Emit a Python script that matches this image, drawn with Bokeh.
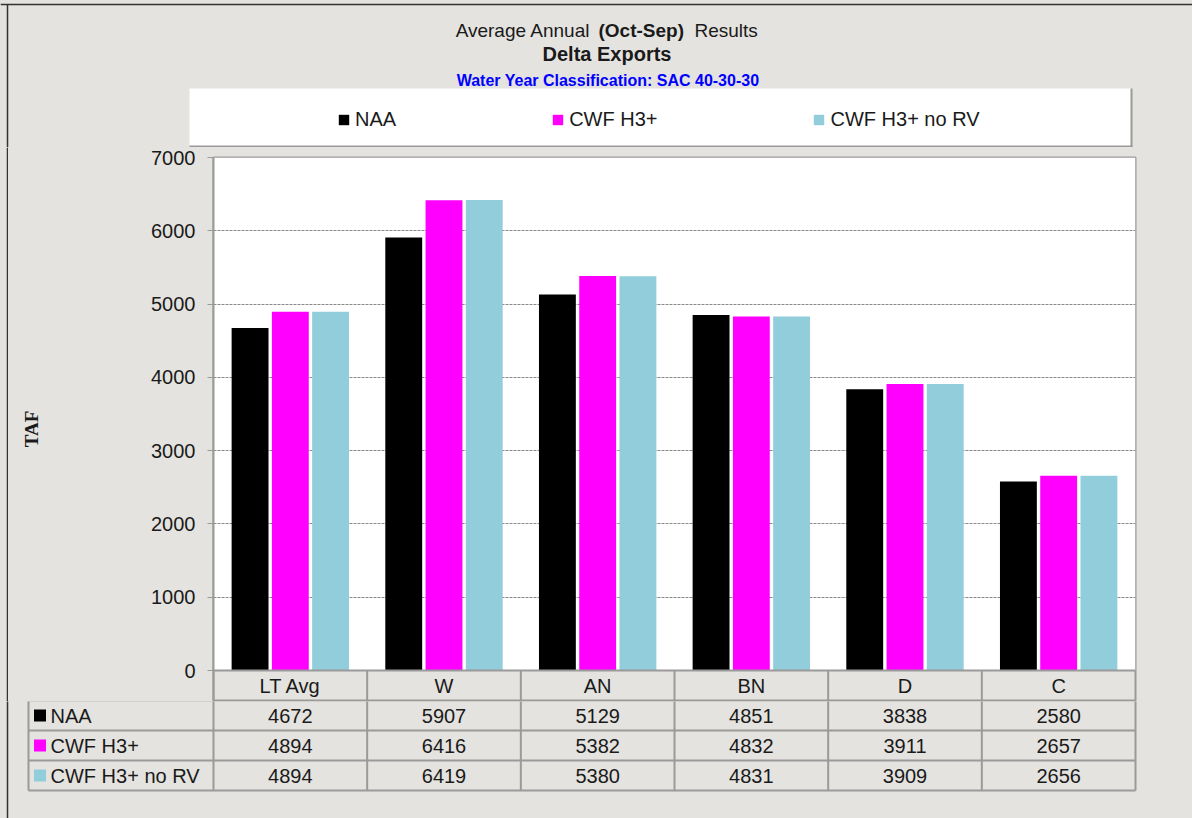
from bokeh.plotting import figure
from bokeh.models import (Range1d, FactorRange, FixedTicker, BoxAnnotation, Legend,
                          LegendItem, Span)
from bokeh.transform import dodge
from bokeh.layouts import column, row
from bokeh.core.properties import value
from bokeh.embed import file_html
from bokeh.resources import INLINE

# ---------------- data ----------------
categories = ["LT Avg", "W", "AN", "BN", "D", "C"]
series_names = ["NAA", "CWF H3+", "CWF H3+ no RV"]
naa = [4672, 5907, 5129, 4851, 3838, 2580]
cwf_h3 = [4894, 6416, 5382, 4832, 3911, 2657]
cwf_h3_no_rv = [4894, 6419, 5380, 4831, 3909, 2656]
series_values = [naa, cwf_h3, cwf_h3_no_rv]
series_colors = ["#000000", "#ff00ff", "#92cddc"]
y_ticks = [0, 1000, 2000, 3000, 4000, 5000, 6000, 7000]
grid_ticks = [1000, 2000, 3000, 4000, 5000, 6000]
title_line1 = ["Average Annual", "(Oct-Sep)", "Results"]
title_line2 = "Delta Exports"
title_line3 = "Water Year Classification: SAC 40-30-30"
y_label = "TAF"

# ---------------- style ----------------
BG = "#e4e3df"
LINE = "#9a9a9a"
EDGE = "#333333"
TXT = "#1a1a1a"
FONT = "Liberation Sans"
F = value(FONT)
W = 1192
H = 818
STRIP = 8
BOX_STYLE = {"background-color": BG}


def bare(fig):
    fig.xgrid.visible = False
    fig.ygrid.visible = False
    return fig


# ---------------- top: titles + legend ----------------
TOP_H = 147
top = bare(figure(width=W, height=TOP_H, x_range=Range1d(0, W), y_range=Range1d(TOP_H, 0),
                  x_axis_location=None, y_axis_location=None, output_backend="svg",
                  toolbar_location=None, min_border=0, background_fill_color=BG,
                  border_fill_color=BG, outline_line_color=None))

# outer frame lines
top.segment(x0=[0, 7], y0=[4, 4], x1=[W, 7], y1=[4, TOP_H], line_color=EDGE, line_width=1.5)

top.text(x=[590], y=[29.5], text=[title_line1[0]], text_align="right", text_baseline="middle",
         text_font_size="19px", text_color=TXT, text_font=F)
top.text(x=[598], y=[29.5], text=[title_line1[1]], text_align="left", text_baseline="middle",
         text_font_size="19px", text_font_style="bold", text_color=TXT, text_font=F)
top.text(x=[694], y=[29.5], text=[title_line1[2]], text_align="left", text_baseline="middle",
         text_font_size="19px", text_color=TXT, text_font=F)
top.text(x=[606.5], y=[53], text=[title_line2], text_align="center", text_baseline="middle",
         text_font_size="20px", text_font_style="bold", text_color=TXT, text_font=F)
top.text(x=[607.5], y=[80], text=[title_line3], text_align="center", text_baseline="middle",
         text_font_size="16px", text_font_style="bold", text_color="#0000ff", text_font=F)

# legend box
top.quad(left=[189], right=[1131], top=[88], bottom=[147], fill_color="white", line_color=None)
top.segment(x0=[1131, 189], y0=[88, 146], x1=[1131, 1132], y1=[147, 146],
            line_color=LINE, line_width=2)

nan = float("nan")
items = []
for name, col in zip(series_names, series_colors):
    r = top.quad(left=[nan], right=[nan], top=[nan], bottom=[nan], fill_color=col, line_color=None)
    items.append(LegendItem(label=name, renderers=[r]))
legend = Legend(items=items, orientation="horizontal", location=(337, 16), spacing=155,
                padding=0, margin=0, glyph_width=13, glyph_height=13, label_standoff=5,
                label_text_font=FONT, label_text_font_size="20px", label_text_color=TXT,
                border_line_color=None, background_fill_alpha=0)
top.add_layout(legend, "center")

# ---------------- main chart ----------------
MAIN_H = 554
strip = bare(figure(width=STRIP, height=MAIN_H, x_range=Range1d(0, STRIP),
                    y_range=Range1d(0, MAIN_H), x_axis_location=None, y_axis_location=None,
                    output_backend="svg", toolbar_location=None, min_border=0,
                    background_fill_color=BG, border_fill_color=BG, outline_line_color=None))
strip.segment(x0=[7], y0=[0], x1=[7], y1=[MAIN_H], line_color=EDGE, line_width=1.5)

y_head = 30.0 / (513.0 / 7000.0)  # header row height in data units
main = figure(width=W - STRIP, height=MAIN_H, x_range=FactorRange(*categories),
              y_range=Range1d(-y_head, 7000), x_axis_location=None,
              output_backend="svg", toolbar_location=None,
              min_border_left=213 - STRIP, min_border_right=57, min_border_top=10,
              min_border_bottom=1, background_fill_color=BG, border_fill_color=BG,
              outline_line_color=LINE, outline_line_width=2)

main.add_layout(BoxAnnotation(bottom=0, top=7000, fill_color="white", fill_alpha=1,
                              line_color=None, level="image"))
main.xgrid.visible = False
main.ygrid.ticker = FixedTicker(ticks=grid_ticks)
main.ygrid.grid_line_color = "#8a8a8a"
main.ygrid.grid_line_dash = "3 1"
main.ygrid.grid_line_width = 1

offsets = [-0.262, 0.0, 0.262]
for vals, col, off in zip(series_values, series_colors, offsets):
    src = dict(cat=categories, v=vals)
    main.vbar(x=dodge("cat", off, range=main.x_range), top="v", bottom=0, width=0.24,
              source=src, fill_color=col, line_color=None)

main.add_layout(Span(location=0, dimension="width", line_color=LINE, line_width=2))
bounds = list(range(1, len(categories)))
main.segment(x0=bounds, y0=[-y_head] * len(bounds), x1=bounds, y1=[0] * len(bounds),
             line_color=LINE, line_width=2)
main.text(x=categories, y=[-y_head / 2] * len(categories), text=categories,
          text_align="center", text_baseline="middle", text_font_size="20px",
          text_color=TXT, text_font=F)

ax = main.yaxis[0]
ax.ticker = FixedTicker(ticks=y_ticks)
ax.axis_line_color = LINE
ax.axis_line_width = 2
ax.major_tick_line_color = LINE
ax.major_tick_line_width = 1
ax.major_tick_out = 6
ax.major_tick_in = 0
ax.minor_tick_line_color = None
ax.major_label_standoff = 12
ax.major_label_text_font = FONT
ax.major_label_text_font_size = "20px"
ax.major_label_text_color = TXT
ax.axis_label = y_label
ax.axis_label_text_font = "Liberation Serif"
ax.axis_label_text_font_style = "bold"
ax.axis_label_text_font_size = "19px"
ax.axis_label_text_color = TXT
ax.axis_label_standoff = 106

# ---------------- data table ----------------
TB_H = H - TOP_H - MAIN_H
CW = (1135 - 213) / len(categories)   # px per category column
L = (213 - 28) / CW                    # width of the name column
nrows = len(series_names)
table = bare(figure(width=W, height=TB_H, x_range=Range1d(-213 / CW, (W - 213) / CW),
                    y_range=Range1d(1.0 / 30 + TB_H / 30.0, 1.0 / 30), x_axis_location=None,
                    y_axis_location=None, output_backend="svg", toolbar_location=None,
                    min_border=0, background_fill_color=BG, border_fill_color=BG,
                    outline_line_color=None))

table.segment(x0=[-206 / CW], y0=[0], x1=[-206 / CW], y1=[TB_H / 30.0 + 1],
              line_color=EDGE, line_width=1.5)

hy = list(range(nrows + 1))
table.segment(x0=[-L] * len(hy), y0=hy, x1=[len(categories)] * len(hy), y1=hy,
              line_color=LINE, line_width=2)
vx = [-L] + list(range(len(categories) + 1))
table.segment(x0=vx, y0=[0] * len(vx), x1=vx, y1=[nrows] * len(vx),
              line_color=LINE, line_width=2)

for k, (name, col, vals) in enumerate(zip(series_names, series_colors, series_values)):
    table.rect(x=[-L + 11.5 / CW], y=[k + 0.5], width=12, height=12, width_units="screen",
               height_units="screen", fill_color=col, line_color=None)
    table.text(x=[-L + 22 / CW], y=[k + 0.5], text=[name], text_align="left",
               text_baseline="middle", text_font_size="20px", text_color=TXT, text_font=F)
    table.text(x=[i + 0.5 for i in range(len(categories))], y=[k + 0.5] * len(categories),
               text=[str(v) for v in vals], text_align="center", text_baseline="middle",
               text_font_size="20px", text_color=TXT, text_font=F)

page = column(row(top, styles=BOX_STYLE),
              row(row(strip, styles=BOX_STYLE), row(main, styles=BOX_STYLE), spacing=0,
                  styles=BOX_STYLE),
              row(table, styles=BOX_STYLE), spacing=0, styles=BOX_STYLE)
open("out.html", "w").write(file_html(page, INLINE))
